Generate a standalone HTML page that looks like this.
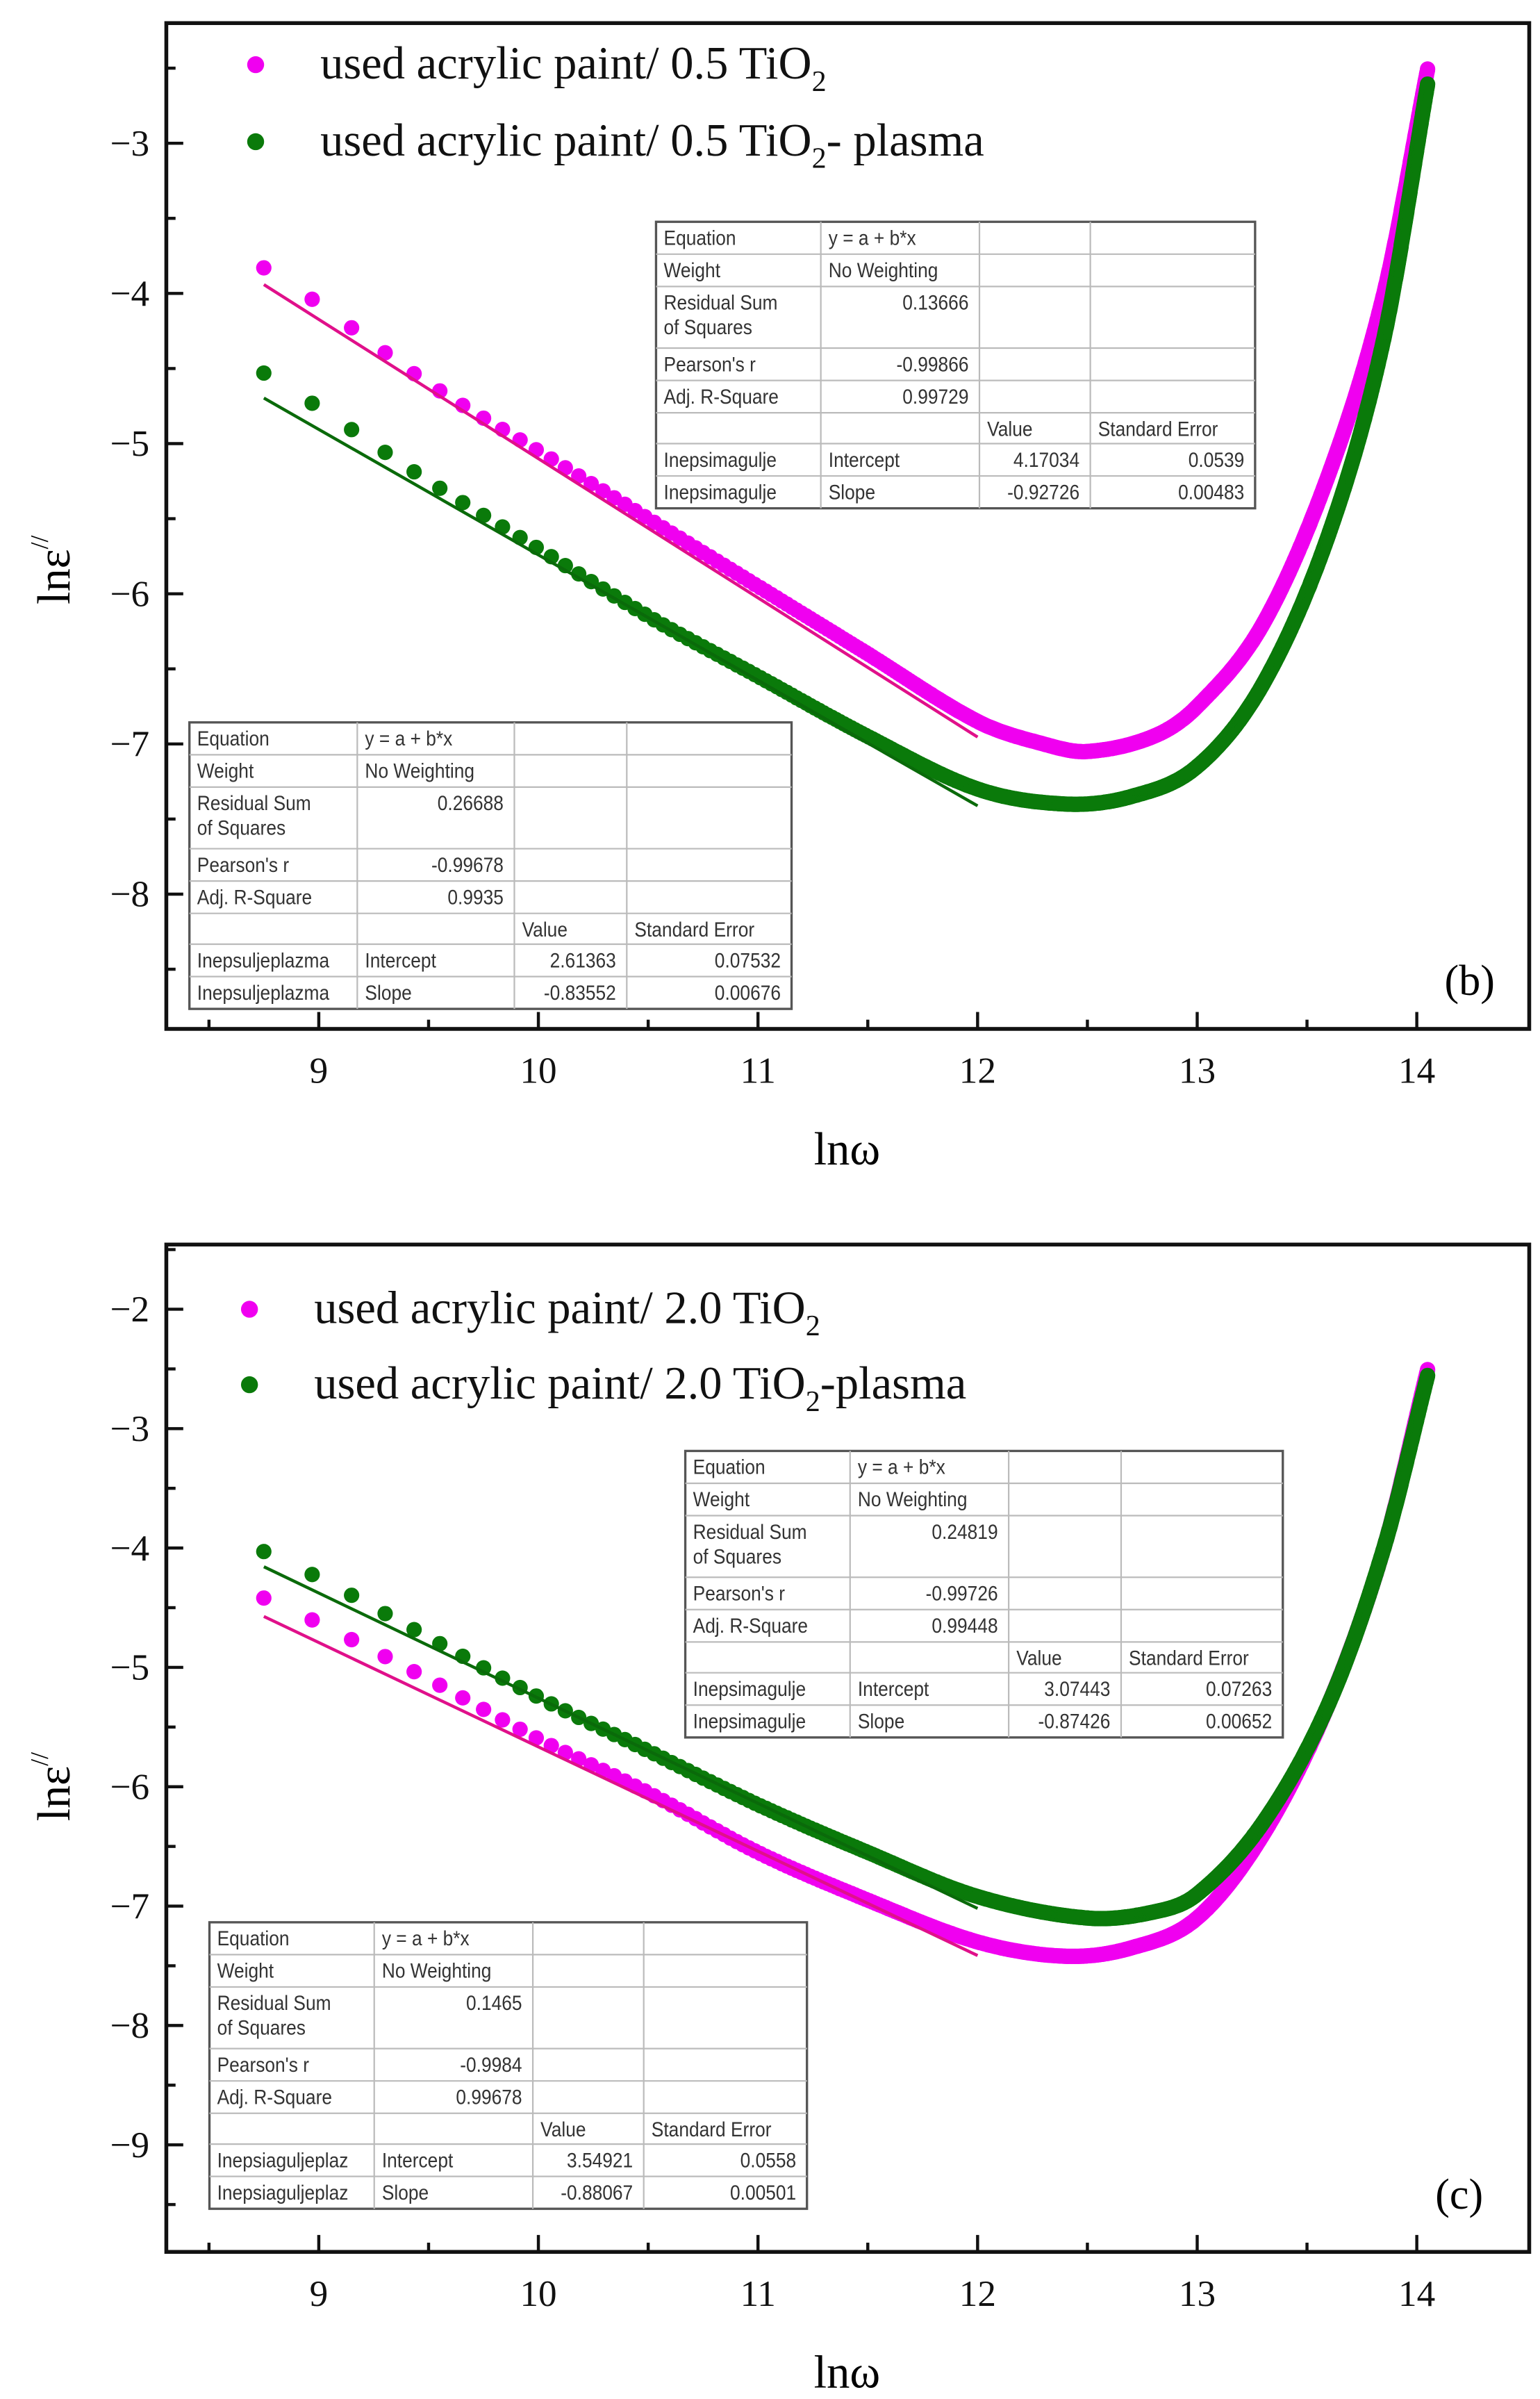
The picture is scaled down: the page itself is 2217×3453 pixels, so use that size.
<!DOCTYPE html>
<html><head><meta charset="utf-8"><style>
html,body{margin:0;padding:0;background:#fff}
svg{display:block}
.tk{font-family:"Liberation Serif",serif;font-size:24px;fill:#111}
.lg{font-family:"Liberation Serif",serif;font-size:30px;fill:#111}
.tb{font-family:"Liberation Sans",sans-serif;font-size:13.5px;fill:#333}
</style></head><body>
<svg id="s" width="2217" height="3453" viewBox="0 0 1000 1557.5" preserveAspectRatio="none" xmlns="http://www.w3.org/2000/svg"></svg>
<script>
const S=document.getElementById('s');let h='';
function cr(pts,x){
  let i=0;while(i<pts.length-2&&x>pts[i+1][0])i++;
  const p0=pts[Math.max(i-1,0)],p1=pts[i],p2=pts[i+1],p3=pts[Math.min(i+2,pts.length-1)];
  const t=(x-p1[0])/(p2[0]-p1[0]);
  const m1=(p2[1]-p0[1])/(p2[0]-p0[0])*(p2[0]-p1[0]);
  const m2=(p3[1]-p1[1])/(p3[0]-p1[0])*(p2[0]-p1[0]);
  const t2=t*t,t3=t2*t;
  return (2*t3-3*t2+1)*p1[1]+(t3-2*t2+t)*m1+(-2*t3+3*t2)*p2[1]+(t3-t2)*m2;
}
function panel(o){
  const X=x=>207+(x-9)*142.6, Y=y=>o.y0+(y-o.yv0)*o.sy;
  for(const s of o.series){
    for(let w=Math.exp(8.75);w<=Math.exp(14.05)+1;w+=1550){
      const x=Math.log(w);const y=cr(s.pts,x);
      h+=`<circle cx="${X(x).toFixed(1)}" cy="${Y(y).toFixed(1)}" r="5" fill="${s.c}"/>`;
    }
    h+=`<line x1="${X(8.75)}" y1="${Y(s.a+s.b*8.75)}" x2="${X(12)}" y2="${Y(s.a+s.b*12)}" stroke="${s.lc}" stroke-width="2"/>`;
  }
  h+=`<rect x="108" y="${o.top}" width="885" height="${o.bot-o.top}" fill="none" stroke="#111" stroke-width="2.5"/>`;
  for(let x=8.5;x<=14.01;x+=0.5){const mj=Math.abs(x-Math.round(x))<0.01;
    h+=`<line x1="${X(x)}" y1="${o.bot}" x2="${X(x)}" y2="${o.bot-(mj?11:6)}" stroke="#111" stroke-width="2"/>`;
    if(mj)h+=`<text class="tk" x="${X(x)}" y="${o.bot+35}" text-anchor="middle">${x}</text>`;}
  for(let y=o.ymin;y<=o.ymax+0.01;y+=0.5){const yy=Y(y);if(yy<o.top+3||yy>o.bot-3)continue;const mj=Math.abs(y-Math.round(y))<0.01;
    h+=`<line x1="108" y1="${yy}" x2="${108+(mj?11:6)}" y2="${yy}" stroke="#111" stroke-width="2"/>`;
    if(mj)h+=`<text class="tk" x="97" y="${yy+8}" text-anchor="end">−${-y}</text>`;}
  h+=`<text x="550" y="${o.bot+88}" text-anchor="middle" style="font-family:'Liberation Serif',serif;font-size:30px">lnω</text>`;
  h+=`<text transform="translate(45,${o.ylab}) rotate(-90)" text-anchor="middle" style="font-family:'Liberation Serif',serif;font-size:30px">lnε<tspan dy="-14" font-size="16">//</tspan></text>`;
  h+=`<text x="${o.lab[0]}" y="${o.lab[1]}" style="font-family:'Liberation Serif',serif;font-size:28px">${o.lab[2]}</text>`;
  o.leg.forEach((l,i)=>{h+=`<circle cx="${l[0]}" cy="${l[1]}" r="5.5" fill="${l[2]}"/><text class="lg" x="${l[0]+42}" y="${l[1]+9}">${l[3]}</text>`;});
  o.tables.forEach(t=>table(...t));
}
function T(x,y,s,anchor){return `<text class="tb" transform="translate(${x},${y}) scale(0.88,1)"${anchor?' text-anchor="end"':''}>${s}</text>`;}
function table(x0,y0,cols,data){
  const rh=[21,21,40,21,21,20,21,21];let ys=[y0];rh.forEach(r=>ys.push(ys[ys.length-1]+r));
  const x1=cols[4],y1=ys[8];
  h+=`<rect x="${x0}" y="${y0}" width="${x1-x0}" height="${y1-y0}" fill="#fff" stroke="#555" stroke-width="1.5"/>`;
  ys.slice(1,8).forEach(y=>h+=`<line x1="${x0}" y1="${y}" x2="${x1}" y2="${y}" stroke="#bbb" stroke-width="1"/>`);
  cols.slice(1,4).forEach(x=>h+=`<line x1="${x}" y1="${y0}" x2="${x}" y2="${y1}" stroke="#bbb" stroke-width="1"/>`);
  data.forEach((row,r)=>row.forEach((c,k)=>{if(!c)return;
    const right=(k==1&&r>=2&&r<=4)||(k>=2&&r>=6);
    const ty=ys[r]+15;
    if(r==2&&k==0){h+=T(cols[0]+5,ty,"Residual Sum")+T(cols[0]+5,ty+16,"of Squares");return;}
    if(right)h+=T(cols[k+1]-7,ty,c,true);
    else h+=T(cols[k]+5,ty,c);
  }));
}
function D(n,rs,pr,ad,i1,i2,s1,s2){return [["Equation","y = a + b*x"],["Weight","No Weighting"],["R",rs],["Pearson's r",pr],["Adj. R-Square",ad],["","","Value","Standard Error"],[n,"Intercept",i1,i2],[n,"Slope",s1,s2]];}
const PK="#f000f0",GR="#0a7a0a";
panel({top:15,bot:668,y0:93,yv0:-3,sy:-97.5,ymin:-8.5,ymax:-2.5,ylab:370,lab:[938,646,"(b)"],
 series:[
 {c:PK,lc:"#e0108a",a:4.17,b:-0.927,pts:[[8.75,-3.83],[9,-4.07],[9.5,-4.6],[10,-5.05],[10.5,-5.5],[11,-5.95],[11.5,-6.4],[12,-6.85],[12.3,-7.0],[12.5,-7.05],[12.8,-6.95],[13,-6.75],[13.3,-6.2],[13.6,-5.2],[13.85,-4.0],[14.05,-2.5]]},
 {c:GR,lc:"#0a6a0a",a:2.614,b:-0.8355,pts:[[8.75,-4.53],[9,-4.76],[9.5,-5.25],[10,-5.7],[10.5,-6.15],[11,-6.55],[11.5,-6.95],[12,-7.3],[12.4,-7.4],[12.7,-7.35],[13,-7.15],[13.3,-6.6],[13.6,-5.6],[13.85,-4.3],[14.05,-2.6]]}],
 leg:[[166,42,PK,"used acrylic paint/ 0.5 TiO<tspan dy='8' font-size='19'>2</tspan>"],[166,92,GR,"used acrylic paint/ 0.5 TiO<tspan dy='8' font-size='19'>2</tspan><tspan dy='-8'>- plasma</tspan>"]],
 tables:[[426,144,[426,533,636,708,815],D("Inepsimagulje","0.13666","-0.99866","0.99729","4.17034","0.0539","-0.92726","0.00483")],
         [123,469,[123,232,334,407,514],D("Inepsuljeplazma","0.26688","-0.99678","0.9935","2.61363","0.07532","-0.83552","0.00676")]]
});
panel({top:808,bot:1462,y0:850,yv0:-2,sy:-77.5,ymin:-9.5,ymax:-1.5,ylab:1160,lab:[932,1434,"(c)"],
 series:[
 {c:PK,lc:"#e0108a",a:3.074,b:-0.874,pts:[[8.75,-4.42],[9,-4.63],[9.5,-5.1],[10,-5.6],[10.5,-6.05],[11,-6.55],[11.5,-6.95],[12,-7.3],[12.4,-7.42],[12.7,-7.35],[13,-7.1],[13.3,-6.4],[13.6,-5.3],[13.85,-4.0],[14.05,-2.5]]},
 {c:GR,lc:"#0a6a0a",a:3.549,b:-0.8807,pts:[[8.75,-4.03],[9,-4.25],[9.5,-4.75],[10,-5.25],[10.5,-5.7],[11,-6.15],[11.5,-6.55],[12,-6.92],[12.5,-7.1],[12.8,-7.05],[13,-6.9],[13.3,-6.3],[13.6,-5.3],[13.85,-4.0],[14.05,-2.55]]}],
 leg:[[162,850,PK,"used acrylic paint/ 2.0 TiO<tspan dy='8' font-size='19'>2</tspan>"],[162,899,GR,"used acrylic paint/ 2.0 TiO<tspan dy='8' font-size='19'>2</tspan><tspan dy='-8'>-plasma</tspan>"]],
 tables:[[445,942,[445,552,655,728,833],D("Inepsimagulje","0.24819","-0.99726","0.99448","3.07443","0.07263","-0.87426","0.00652")],
         [136,1248,[136,243,346,418,524],D("Inepsiaguljeplaz","0.1465","-0.9984","0.99678","3.54921","0.0558","-0.88067","0.00501")]]
});
S.innerHTML=h;
</script>
</body></html>
